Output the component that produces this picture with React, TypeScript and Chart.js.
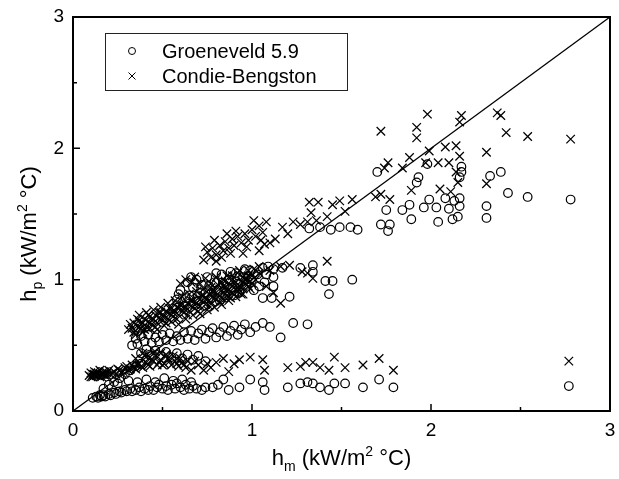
import React, { useEffect, useRef } from "react";
import { Chart, registerables } from "chart.js";
Chart.register(...registerables);

// ---------- data (kW/m2 °C) ----------
const axisTicks = [0, 1, 2, 3];
const minorTicks = [0.5, 1.5, 2.5];
const seriesLabels = ["Groeneveld 5.9", "Condie-Bengston"];
const diagonal = [[0, 0], [3, 3]];

// Groeneveld 5.9 (circles)
const gLow = [
  [0.11,0.10],[0.13,0.11],[0.14,0.10],[0.15,0.12],[0.16,0.11],[0.17,0.12],[0.18,0.11],[0.20,0.13],[0.21,0.12],[0.23,0.14],
  [0.24,0.13],[0.26,0.15],[0.27,0.14],[0.29,0.16],[0.30,0.15],[0.32,0.17],[0.33,0.15],[0.35,0.16],[0.37,0.18],[0.38,0.15],
  [0.40,0.17],[0.42,0.16],[0.43,0.19],[0.45,0.16],[0.47,0.18],[0.48,0.20],[0.50,0.17],[0.52,0.19],[0.53,0.16],[0.55,0.20],
  [0.57,0.17],[0.58,0.21],[0.60,0.18],[0.62,0.16],[0.63,0.20],[0.65,0.17],[0.67,0.19],[0.69,0.17],[0.72,0.16],[0.74,0.18],
  [0.78,0.18],[0.84,0.24],[0.87,0.16],[0.93,0.18],[0.99,0.24],[1.06,0.22],[1.07,0.16],[1.20,0.18],[1.27,0.21],[1.31,0.22],
  [1.34,0.21],[1.38,0.18],[1.43,0.16],[1.46,0.21],[1.52,0.21],[1.62,0.18],[1.71,0.24],[1.79,0.18],[2.77,0.19],
  [0.25,0.21],[0.31,0.23],[0.36,0.22],[0.41,0.24],[0.46,0.22],[0.51,0.25],[0.56,0.23],[0.61,0.24],[0.66,0.22],[0.81,0.20],
];
const gDiag = [
  [0.17,0.17],[0.20,0.20],[0.23,0.22],[0.26,0.25],[0.29,0.28],[0.32,0.31],[0.35,0.34],[0.38,0.36],[0.41,0.39],[0.44,0.42],
];
const gMidLow = [
  [0.38,0.44],[0.41,0.47],[0.43,0.43],[0.46,0.46],[0.49,0.42],[0.52,0.45],[0.55,0.41],[0.58,0.44],[0.61,0.40],[0.64,0.43],
  [0.67,0.39],[0.70,0.42],[0.74,0.38],
];
const gMid = [
  [0.33,0.50],[0.35,0.55],[0.36,0.51],[0.38,0.57],[0.40,0.53],[0.42,0.58],[0.44,0.52],[0.46,0.56],[0.48,0.53],[0.50,0.58],
  [0.52,0.54],[0.54,0.59],[0.56,0.53],[0.58,0.57],[0.60,0.54],[0.62,0.60],[0.64,0.55],[0.66,0.61],[0.68,0.54],[0.70,0.59],
  [0.72,0.62],[0.74,0.55],[0.76,0.60],[0.78,0.63],[0.80,0.56],[0.82,0.60],[0.84,0.64],[0.86,0.57],[0.88,0.61],[0.90,0.65],
  [0.92,0.58],[0.94,0.62],[0.96,0.66],[0.99,0.60],[1.02,0.64],[1.06,0.67],[1.10,0.64],[1.16,0.56],[1.23,0.67],[1.31,0.66],
];
const gUpper = [
  [0.56,0.78],[0.58,0.85],[0.60,0.92],[0.62,0.80],[0.64,0.98],[0.65,0.88],[0.67,0.94],[0.69,1.00],[0.70,0.84],[0.72,0.96],
  [0.74,0.90],[0.75,1.02],[0.77,0.86],[0.79,0.98],[0.81,0.92],[0.83,1.04],[0.85,0.88],[0.87,1.00],[0.89,0.94],[0.91,1.05],
  [0.93,0.90],[0.95,1.02],[0.97,0.96],[0.99,1.07],[1.01,0.92],[1.03,1.04],[1.06,1.09],[1.07,0.98],[1.08,1.04],[1.12,1.08],
  [1.12,1.02],[1.12,0.95],[1.17,1.09],[1.27,1.09],[1.34,1.11],[1.34,1.06],[1.41,0.99],[1.45,0.99],[1.43,0.89],[1.56,1.00],
  [1.06,0.86],[1.11,0.86],[1.21,0.87],
  [0.59,0.89],[0.63,0.86],[0.66,1.02],[0.71,0.90],[0.76,0.95],[0.80,1.05],[0.84,0.97],[0.88,1.06],[0.92,0.97],[0.96,1.08],
  [1.00,1.00],[1.04,0.95],[1.09,1.10],[0.73,0.80],[0.82,0.84],[0.90,0.88],
];
const gHigh = [
  [1.32,1.39],[1.38,1.40],[1.44,1.38],[1.49,1.40],[1.55,1.40],[1.59,1.38],[1.72,1.42],[1.77,1.42],[1.76,1.37],
];
const gTop = [
  [1.70,1.82],[1.75,1.53],[1.84,1.53],[1.88,1.57],[1.89,1.46],[1.92,1.74],[1.93,1.78],[1.96,1.55],[1.98,1.88],[1.99,1.61],
  [2.03,1.55],[2.04,1.44],[2.08,1.62],[2.10,1.54],[2.12,1.46],[2.13,1.60],[2.15,1.48],[2.16,1.56],[2.16,1.62],[2.16,1.78],
  [2.17,1.82],[2.17,1.86],[2.31,1.47],[2.31,1.56],[2.33,1.79],[2.39,1.82],[2.43,1.66],[2.54,1.63],[2.78,1.61],
];

// Condie-Bengston (crosses)
const cLow = [
  [0.09,0.27],[0.10,0.29],[0.11,0.26],[0.12,0.28],[0.12,0.30],[0.13,0.27],[0.14,0.29],[0.15,0.26],[0.15,0.31],[0.16,0.28],
  [0.17,0.30],[0.18,0.27],[0.19,0.29],[0.20,0.31],[0.21,0.28],[0.23,0.30],[0.25,0.32],[0.27,0.29],[0.29,0.33],[0.31,0.31],
  [0.33,0.35],[0.35,0.32],[0.37,0.36],[0.39,0.33],[0.41,0.37],[0.43,0.34],[0.45,0.38],[0.47,0.35],[0.49,0.39],[0.51,0.36],
  [0.53,0.40],[0.55,0.35],[0.57,0.38],[0.59,0.34],[0.61,0.37],[0.63,0.33],[0.66,0.31],[0.70,0.35],[0.73,0.31],[0.77,0.33],
  [0.80,0.37],[0.84,0.40],[0.87,0.30],[0.90,0.36],[0.93,0.39],[0.99,0.41],[1.06,0.39],[1.07,0.31],[1.20,0.33],[1.27,0.34],
  [1.30,0.37],[1.34,0.37],[1.38,0.33],[1.43,0.31],[1.46,0.41],[1.52,0.33],[1.62,0.35],[1.71,0.40],[1.79,0.31],[2.77,0.38],
  [0.40,0.42],[0.46,0.45],[0.52,0.43],
  [0.10,0.26],[0.11,0.28],[0.12,0.27],[0.13,0.29],[0.14,0.27],[0.16,0.26],[0.17,0.28],[0.18,0.30],[0.19,0.27],[0.22,0.29],
  [0.24,0.28],[0.26,0.31],[0.28,0.30],[0.30,0.34],[0.32,0.32],[0.34,0.33],[0.36,0.35],[0.38,0.34],[0.42,0.35],[0.44,0.39],
  [0.48,0.37],[0.50,0.35],[0.54,0.38],[0.58,0.36],[0.62,0.35],[0.64,0.38],
  [0.35,0.40],[0.39,0.44],[0.43,0.41],[0.49,0.44],[0.56,0.42],[0.60,0.40],[0.68,0.38],[0.75,0.36],
];
const cDense = [
  [0.33,0.63],[0.34,0.67],[0.35,0.61],[0.36,0.65],[0.37,0.69],[0.38,0.63],[0.39,0.67],[0.40,0.70],[0.41,0.64],[0.42,0.68],
  [0.43,0.72],[0.44,0.66],[0.45,0.70],[0.46,0.73],[0.47,0.67],[0.48,0.71],[0.49,0.75],[0.50,0.69],[0.51,0.72],[0.52,0.76],
  [0.53,0.70],[0.54,0.74],[0.55,0.78],[0.56,0.72],[0.57,0.76],[0.58,0.79],[0.59,0.73],[0.60,0.77],[0.61,0.81],[0.62,0.75],
  [0.63,0.79],[0.64,0.82],[0.65,0.76],[0.66,0.80],[0.67,0.84],[0.68,0.78],[0.69,0.82],[0.70,0.86],[0.71,0.80],[0.72,0.84],
  [0.73,0.88],[0.74,0.81],[0.75,0.85],[0.76,0.89],[0.77,0.83],[0.78,0.87],[0.79,0.91],[0.80,0.85],[0.81,0.89],[0.82,0.93],
  [0.83,0.86],[0.84,0.90],[0.85,0.94],[0.86,0.88],[0.87,0.92],[0.88,0.96],[0.89,0.90],[0.90,0.94],[0.91,0.98],[0.92,0.91],
  [0.93,0.95],[0.94,0.99],[0.95,0.93],[0.96,0.97],[0.97,1.01],[0.98,0.95],[0.99,0.99],[1.00,1.03],[1.02,1.00],[1.04,1.05],
  [0.60,0.97],[0.63,1.00],[0.66,0.98],[0.68,1.02],[0.71,0.97],[0.74,1.01],[0.77,0.97],[0.80,1.02],[0.83,0.98],[0.86,1.03],
  [0.89,1.00],[0.92,1.05],[0.95,1.02],[0.98,1.07],[1.01,1.08],[1.04,1.10],
  [1.10,1.07],[1.16,1.10],[1.21,1.11],[1.28,1.06],[1.31,1.05],[1.34,1.01],[1.42,1.14],[1.16,0.82],[1.08,0.95],[1.12,0.90],
];
const cDense2 = [
  [0.34,0.60],[0.36,0.70],[0.38,0.66],[0.40,0.62],[0.42,0.73],[0.44,0.69],[0.46,0.64],[0.48,0.75],[0.50,0.72],[0.52,0.67],
  [0.54,0.78],[0.56,0.75],[0.58,0.70],[0.60,0.81],[0.62,0.78],[0.64,0.73],[0.66,0.84],[0.68,0.81],[0.70,0.76],[0.72,0.88],
  [0.74,0.85],[0.76,0.80],[0.78,0.91],[0.80,0.88],[0.82,0.83],[0.84,0.95],[0.86,0.91],[0.88,0.86],[0.90,0.97],[0.92,0.94],
  [0.94,0.89],[0.96,1.00],[0.98,1.03],[1.00,0.97],[0.31,0.62],[0.32,0.66],
  [0.35,0.58],[0.39,0.60],[0.43,0.63],[0.47,0.62],[0.51,0.65],[0.55,0.68],[0.59,0.66],[0.63,0.70],[0.67,0.73],[0.71,0.74],
  [0.75,0.77],[0.79,0.79],[0.83,0.81],[0.87,0.84],[0.91,0.87],[0.95,0.89],[0.99,0.93],
  [0.37,0.73],[0.41,0.75],[0.45,0.77],[0.49,0.79],[0.53,0.82],[0.57,0.84],[0.61,0.87],[0.65,0.89],[0.69,0.91],[0.73,0.93],
  [0.77,0.94],[0.81,0.96],[0.85,0.99],[0.89,1.03],[0.93,1.07],
];
const cUpper = [
  [0.73,1.15],[0.75,1.21],[0.77,1.17],[0.78,1.24],[0.80,1.19],[0.82,1.26],[0.84,1.22],[0.85,1.29],[0.87,1.24],[0.89,1.31],
  [0.90,1.26],[0.92,1.33],[0.94,1.28],[0.96,1.35],[0.98,1.30],[1.00,1.38],[1.02,1.33],[1.04,1.41],[1.06,1.36],[1.08,1.44],
  [1.04,1.22],[1.07,1.27],[0.95,1.20],
  [0.74,1.25],[0.79,1.30],[0.83,1.17],[0.88,1.20],[0.91,1.37],[0.97,1.25],[1.01,1.45],[1.05,1.30],[0.86,1.35],[0.80,1.14],
];
const cLine = [
  [1.10,1.28],[1.13,1.31],[1.17,1.40],[1.20,1.35],[1.23,1.44],[1.27,1.42],[1.31,1.44],[1.32,1.59],[1.33,1.51],[1.37,1.59],
  [1.36,1.45],[1.42,1.48],[1.45,1.57],[1.49,1.60],[1.52,1.52],[1.56,1.61],[1.69,1.63],[1.72,1.65],[1.77,1.61],
];
const cTop = [
  [1.72,2.13],[1.92,2.16],[1.92,2.08],[1.98,2.26],[2.16,2.20],[2.17,2.25],[2.37,2.27],[2.39,2.25],[2.42,2.12],[2.54,2.09],
  [2.78,2.07],[1.74,1.85],[1.76,1.89],[1.84,1.85],[1.88,1.93],[1.97,1.89],[1.99,1.98],[2.04,1.89],[2.08,2.01],[2.10,1.89],
  [2.14,2.02],[2.16,1.94],[2.31,1.97],[1.89,1.68],[2.05,1.69],[2.11,1.67],[2.15,1.74],[2.31,1.73],[2.14,1.82],
];

const xTitleParts = [
  { t: "h", sub: 0 }, { t: "m", sub: 1 }, { t: " (kW/m", sub: 0 }, { t: "2", sub: -1 }, { t: " \u00B0C)", sub: 0 },
];
const yTitleParts = [
  { t: "h", sub: 0 }, { t: "p", sub: 1 }, { t: " (kW/m", sub: 0 }, { t: "2", sub: -1 }, { t: " \u00B0C)", sub: 0 },
];

const FONT = "'Liberation Sans', Arial, Helvetica, sans-serif";
const toXY = (arr: number[][]) => arr.map(([x, y]) => ({ x, y }));

function drawRich(ctx: CanvasRenderingContext2D, parts: any[], cx: number, baseY: number, size: number) {
  const small = Math.round(size * 0.62);
  const fontFor = (p: any) => `${p.sub ? small : size}px ${FONT}`;
  let total = 0;
  for (const p of parts) { ctx.font = fontFor(p); total += ctx.measureText(p.t).width; }
  let x = cx - total / 2;
  ctx.textAlign = "left";
  ctx.textBaseline = "alphabetic";
  for (const p of parts) {
    ctx.font = fontFor(p);
    const dy = p.sub === 1 ? size * 0.25 : p.sub === -1 ? -size * 0.42 : 0;
    ctx.fillText(p.t, x, baseY + dy);
    x += ctx.measureText(p.t).width;
  }
}

const decorPlugin = {
  id: "decor",
  afterDraw(chart: any) {
    const { ctx, chartArea: a, scales } = chart;
    const xs = scales.x, ys = scales.y;
    ctx.save();
    ctx.strokeStyle = "#000";
    ctx.fillStyle = "#000";
    ctx.lineWidth = 2;
    ctx.strokeRect(a.left, a.top, a.right - a.left, a.bottom - a.top);
    ctx.lineWidth = 1.5;
    ctx.beginPath();
    for (const v of axisTicks) {
      const px = xs.getPixelForValue(v);
      ctx.moveTo(px, a.bottom); ctx.lineTo(px, a.bottom - 7);
      const py = ys.getPixelForValue(v);
      ctx.moveTo(a.left, py); ctx.lineTo(a.left + 7, py);
    }
    for (const v of minorTicks) {
      const px = xs.getPixelForValue(v);
      ctx.moveTo(px, a.bottom); ctx.lineTo(px, a.bottom - 4);
      const py = ys.getPixelForValue(v);
      ctx.moveTo(a.left, py); ctx.lineTo(a.left + 4, py);
    }
    ctx.stroke();

    // axis titles
    drawRich(ctx, xTitleParts, (a.left + a.right) / 2, 465, 22);
    ctx.save();
    ctx.translate(36, (a.top + a.bottom) / 2 + 20);
    ctx.rotate(-Math.PI / 2);
    drawRich(ctx, yTitleParts, 0, 0, 22);
    ctx.restore();

    // legend
    const lx = a.left + 32, ly = a.top + 16, lw = 242, lh = 57;
    ctx.lineWidth = 1;
    ctx.strokeStyle = "#222";
    ctx.strokeRect(lx + 0.5, ly + 0.5, lw, lh);
    ctx.font = `20px ${FONT}`;
    ctx.textAlign = "left";
    ctx.textBaseline = "middle";
    const rows = [ly + 18, ly + 43];
    chart.data.datasets.forEach((ds: any, i: number) => {
      if (i > 1) return;
      const my = rows[i];
      const mx = lx + 27;
      ctx.lineWidth = 1;
      ctx.strokeStyle = "#000";
      ctx.beginPath();
      if (ds.pointStyle === "circle") {
        ctx.arc(mx, my, 3.5, 0, Math.PI * 2);
      } else {
        const r = 3.5;
        ctx.moveTo(mx - r, my - r); ctx.lineTo(mx + r, my + r);
        ctx.moveTo(mx + r, my - r); ctx.lineTo(mx - r, my + r);
      }
      ctx.stroke();
      ctx.fillText(ds.label, lx + 57, my + 1);
    });
    ctx.restore();
  },
};

export default function App() {
  const ref = useRef<HTMLCanvasElement | null>(null);
  useEffect(() => {
    if (!ref.current) return;
    const circles = [...gLow, ...gDiag, ...gMidLow, ...gMid, ...gUpper, ...gHigh, ...gTop];
    const crosses = [...cLow, ...cDense, ...cDense2, ...cUpper, ...cLine, ...cTop];
    const chart = new Chart(ref.current, {
      type: "scatter",
      data: {
        datasets: [
          {
            label: seriesLabels[0],
            data: toXY(circles),
            pointStyle: "circle",
            pointRadius: 4.3,
            pointBorderWidth: 1.2,
            borderColor: "#000",
            backgroundColor: "rgba(0,0,0,0)",
            pointBackgroundColor: "rgba(0,0,0,0)",
            pointBorderColor: "#000",
          },
          {
            label: seriesLabels[1],
            data: toXY(crosses),
            pointStyle: "crossRot",
            pointRadius: 6,
            pointBorderWidth: 1.25,
            borderColor: "#000",
            pointBorderColor: "#000",
          },
          {
            type: "line",
            label: "y = x",
            data: toXY(diagonal),
            borderColor: "#000",
            borderWidth: 1.3,
            pointRadius: 0,
            showLine: true,
            fill: false,
          } as any,
        ],
      },
      options: {
        animation: false,
        responsive: false,
        layout: { padding: { left: 0, right: 9, top: 17, bottom: 0 } },
        plugins: { legend: { display: false }, tooltip: { enabled: false } },
        scales: {
          x: {
            type: "linear",
            min: 0,
            max: 3,
            ticks: { stepSize: 1, color: "#000", font: { family: FONT, size: 19 }, padding: 8 },
            grid: { display: false, drawTicks: false },
            border: { display: false },
            afterFit: (s: any) => { s.height = 68; s.paddingLeft = 0; s.paddingRight = 0; },
          },
          y: {
            type: "linear",
            min: 0,
            max: 3,
            ticks: { stepSize: 1, color: "#000", font: { family: FONT, size: 19 }, padding: 9 },
            grid: { display: false, drawTicks: false },
            border: { display: false },
            afterFit: (s: any) => { s.width = 73; s.paddingTop = 0; s.paddingBottom = 0; },
          },
        },
      },
      plugins: [decorPlugin],
    });
    return () => chart.destroy();
  }, []);
  return (
    <div style={{ position: "fixed", left: 0, top: 0, width: 619, height: 479, background: "#fff" }}>
      <canvas ref={ref} width={619} height={479} style={{ display: "block" }} />
    </div>
  );
}
